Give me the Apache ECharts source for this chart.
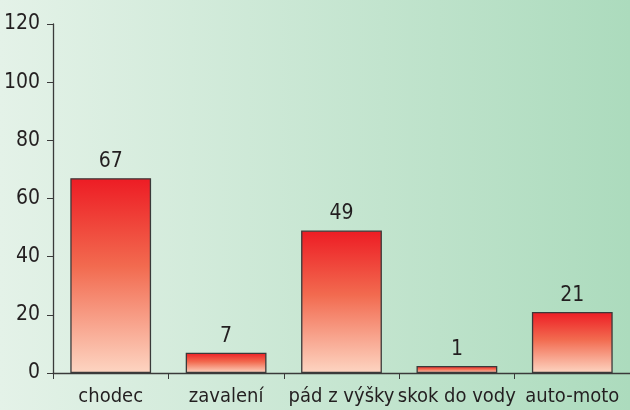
<!DOCTYPE html>
<html>
<head>
<meta charset="utf-8">
<script src="https://cdn.jsdelivr.net/npm/echarts@6/dist/echarts.min.js"></script>
<style>
  html, body { margin: 0; padding: 0; }
  #chart { width: 630px; height: 410px; }
</style>
</head>
<body>
<div id="chart"></div>
<script>
// kategorie a hodnoty
const categories = ['chodec', 'zavalení', 'pád z výšky', 'skok do vody', 'auto-moto'];
const values = [67, 7, 49, 1, 21];
const yTicks = [0, 20, 40, 60, 80, 100, 120];

const font = '"Liberation Sans Narrow", "DejaVu Sans Condensed", "Liberation Sans", sans-serif';

const chart = echarts.init(document.getElementById('chart'));

chart.setOption({
  backgroundColor: new echarts.graphic.LinearGradient(0, 0, 1, 0, [
    { offset: 0, color: '#e4f2e8' },
    { offset: 1, color: '#acdbbd' }
  ]),
  animation: false,
  grid: { left: 53, right: -7, top: 24, bottom: 37 },
  xAxis: {
    type: 'category',
    data: categories,
    axisLine: { lineStyle: { color: '#3a3a3a', width: 1.3 } },
    axisTick: { show: true, length: 6, lineStyle: { color: '#3a3a3a' } },
    axisLabel: {
      color: '#231f20', fontFamily: font, fontSize: 20, margin: 14, interval: 0
    }
  },
  yAxis: {
    type: 'value',
    min: yTicks[0],
    max: yTicks[yTicks.length - 1],
    interval: 20,
    splitLine: { show: false },
    axisLine: { show: true, lineStyle: { color: '#3a3a3a', width: 1.3 } },
    axisTick: { show: true, length: 6, lineStyle: { color: '#3a3a3a' } },
    axisLabel: { color: '#231f20', fontFamily: font, fontSize: 21, margin: 13 }
  },
  series: [{
    type: 'bar',
    data: values,
    barWidth: '70%',
    barMinHeight: 7,
    itemStyle: {
      color: new echarts.graphic.LinearGradient(0, 0, 0, 1, [
        { offset: 0, color: '#ed1c24' },
        { offset: 0.45, color: '#f26a4f' },
        { offset: 1, color: '#fdd5c2' }
      ]),
      borderColor: '#3a3a3a',
      borderWidth: 1.3
    },
    label: {
      show: true, position: 'top', distance: 6,
      color: '#231f20', fontFamily: font, fontSize: 21
    }
  }]
});
</script>
</body>
</html>
